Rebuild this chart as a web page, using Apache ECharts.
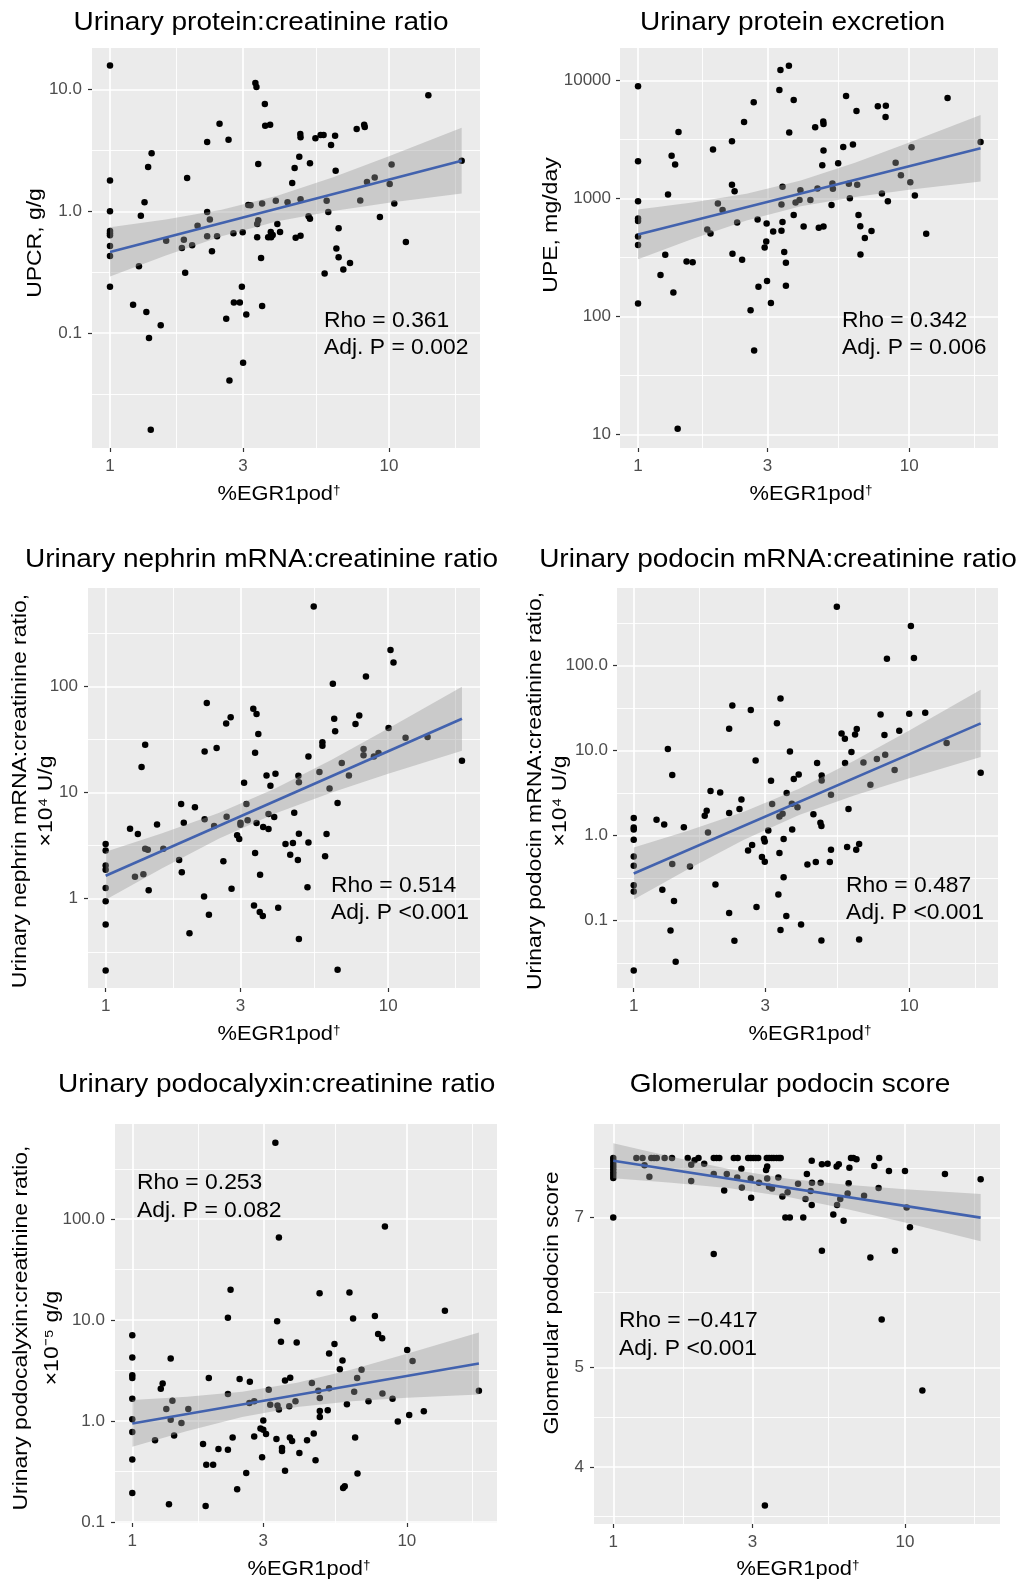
<!DOCTYPE html>
<html><head><meta charset="utf-8">
<script src="https://cdn.jsdelivr.net/npm/echarts@6/dist/echarts.min.js"></script>
<style>html,body{margin:0;padding:0;background:#fff}#c{width:1022px;height:1583px}</style>
</head><body><div id="c"></div>
<script>
// ---------- tick values ----------
const xTickValues = [1, 3, 10];
const xMinorValues = [1.732, 5.477, 17.32];
const upcrYTicks = [0.1, 1, 10];
const upcrYMinor = [0.0316, 0.316, 3.162];
const upeYTicks = [10, 100, 1000, 10000];
const upeYMinor = [31.62, 316.2, 3162];
const nephYTicks = [1, 10, 100];
const nephYMinor = [0.316, 3.162, 31.62, 316.2];
const podYTicks = [0.1, 1, 10, 100];
const podYMinor = [0.0316, 0.316, 3.162, 31.62, 316.2];
const pcxYTicks = [0.1, 1, 10, 100];
const pcxYMinor = [0.316, 3.162, 31.62, 316.2];
const gpsYTicks = [4, 5, 7];
const gpsYMinor = [3.58, 4.472, 5.916, 7.82];

// ---------- points [ %EGR1pod, value ] ----------
const upcrPoints = [[1,15.8],[1,1.79],[1,1.0],[1,0.69],[1,0.66],[1,0.635],[1,0.52],[1,0.43],[1,0.24],
[1.21,0.171],[1.27,0.353],[1.29,0.921],[1.33,1.19],[1.35,0.149],[1.37,2.31],[1.38,0.091],[1.40,0.016],[1.41,3.0],[1.52,0.116],[1.59,0.574],
[1.81,0.50],[1.84,0.585],[1.86,0.313],[1.89,1.88],[1.97,0.526],[2.06,0.762],[2.23,0.987],[2.23,3.72],[2.23,0.623],[2.28,0.855],
[2.32,0.469],[2.42,0.623],[2.47,5.25],[2.61,0.131],[2.66,3.88],[2.68,0.0408],[2.77,0.66],[2.78,0.178],[2.92,0.178],[2.97,0.24],
[2.99,0.672],[3.0,0.057],[3.08,0.142],[3.13,1.13],[3.19,1.12],[3.32,11.35],[3.35,10.5],[3.37,0.787],[3.37,0.611],[3.40,0.843],
[3.40,2.45],[3.48,0.414],[3.51,1.16],[3.51,0.167],[3.59,7.62],[3.60,5.06],[3.69,0.611],[3.75,5.16],[3.77,0.676],[3.78,0.611],
[3.83,0.639],[3.93,1.22],[3.98,0.787],[4.07,0.676],[4.33,1.19],[4.50,1.71],[4.59,2.27],[4.63,0.608],[4.77,2.81],[4.81,4.32],
[4.82,4.06],[4.82,1.26],[4.82,0.631],[5.15,0.91],[5.21,0.871],[5.21,2.48],[5.45,3.98],[5.69,4.24],[5.83,4.24],[5.88,0.309],
[5.98,1.22],[6.06,0.987],[6.20,3.51],[6.41,4.19],[6.44,2.16],[6.48,0.494],[6.60,0.725],[6.60,0.419],[6.86,0.332],[7.25,0.376],
[7.66,4.75],[7.89,1.23],[8.15,5.16],[8.19,4.93],[8.34,1.74],[8.89,1.90],[9.28,0.898],[10.06,1.68],[10.22,2.43],[10.45,1.16],
[11.5,0.56],[13.84,8.98],[18.22,2.61]];

const upePoints = [[1,8900],[1,2068],[1,949],[1,678],[1,644],[1,477],[1,403],[1,129],
[1.21,225],[1.26,334],[1.29,1081],[1.33,2294],[1.35,160],[1.37,1937],[1.40,11.2],[1.41,3654],[1.51,293],[1.59,288],
[1.80,547],[1.85,506],[1.89,2594],[1.97,907],[2.05,797],[2.22,3051],[2.22,1305],[2.23,341],[2.27,1153],[2.32,627],
[2.42,303],[2.46,4446],[2.60,113],[2.67,6516],[2.68,51.6],[2.76,664],[2.78,179],[2.93,385],[2.97,431],[2.98,615],
[2.99,200],[3.09,130],[3.15,526],[3.32,8280],[3.35,12220],[3.38,890],[3.38,533],[3.41,1255],[3.41,631],[3.46,352],
[3.51,286],[3.51,182],[3.60,13300],[3.61,3612],[3.75,6821],[3.75,723],[3.81,925],[3.94,968],[3.97,1176],[4.08,580],
[4.32,968],[4.50,4007],[4.59,1215],[4.64,565],[4.78,1913],[4.82,4474],[4.83,4277],[4.83,2544],[4.83,580],[5.17,879],
[5.21,1339],[5.23,1207],[5.47,1989],[5.71,2733],[5.85,7373],[5.99,1330],[6.04,1006],[6.20,2860],[6.39,5506],[6.43,1305],
[6.50,723],[6.60,583],[6.61,336],[6.86,462],[7.26,530],[7.66,6031],[7.93,1102],[8.18,4899],[8.20,6109],[8.34,949],
[8.91,2002],[9.32,1575],[10.09,1374],[10.2,2716],[10.49,1060],[11.55,503],[13.85,7091],[18.33,3012]];

const nephPoints = [[1,3.27],[1,2.85],[1,2.05],[1,1.875],[1,1.26],[1,0.944],[1,0.573],[1,0.211],
[1.22,4.56],[1.27,1.61],[1.30,4.06],[1.34,17.4],[1.36,1.70],[1.38,2.96],[1.38,28.2],[1.41,2.89],[1.42,1.20],[1.52,5.01],[1.60,2.96],
[1.82,2.31],[1.85,7.79],[1.86,1.78],[1.89,5.2],[1.98,0.472],[2.07,7.25],[2.23,1.05],[2.24,5.59],[2.24,24.4],[2.28,69.7],[2.32,0.707],
[2.42,4.84],[2.47,26.3],[2.61,2.25],[2.67,44.8],[2.68,5.92],[2.77,51.1],[2.79,1.24],[2.92,3.95],[2.97,3.65],[3.0,5.2],[3.0,4.98],
[3.09,12.4],[3.15,7.79],[3.18,5.47],[3.33,61.6],[3.35,0.865],[3.38,2.69],[3.38,23.7],[3.42,54.9],[3.42,5.16],[3.47,35.6],[3.51,0.749],
[3.52,1.68],[3.60,0.687],[3.61,4.73],[3.71,14.5],[3.77,4.53],[3.77,6.27],[3.83,11.6],[3.95,5.88],[3.99,15.0],[4.08,0.823],
[4.33,3.27],[4.50,2.60],[4.60,3.34],[4.65,6.46],[4.79,2.31],[4.81,14.4],[4.83,12.5],[4.83,4.09],[4.83,0.417],[5.18,1.28],[5.22,21.9],[5.22,3.39],
[5.45,567],[5.71,15.6],[5.85,27.6],[5.85,29.7],[5.98,2.51],[6.05,4.06],[6.20,10.9],[6.37,106],[6.44,49.6],[6.49,37.7],[6.62,0.214],[6.62,7.96],
[6.85,19.0],[7.26,14.5],[7.66,44.2],[7.90,53.3],[8.18,22.4],[8.18,25.7],[8.34,124],[8.90,21.9],[9.24,23.6],[10.03,40.5],[10.19,220],[10.44,168],
[11.52,32.9],[13.78,33.3],[18.24,19.9]];

const podPoints = [[1,1.6],[1,1.24],[1,1.17],[1,0.889],[1,0.566],[1,0.44],[1,0.26],[1,0.219],[1,0.0258],
[1.21,1.53],[1.27,0.23],[1.29,1.34],[1.33,10.4],[1.36,0.0762],[1.38,5.13],[1.38,0.46],[1.40,0.169],[1.42,0.0327],[1.52,1.25],[1.60,0.432],
[1.81,1.70],[1.84,1.95],[1.86,1.085],[1.90,3.32],[1.98,0.265],[2.06,3.2],[2.22,1.83],[2.22,18.0],[2.22,0.122],[2.28,33.8],[2.32,0.0577],
[2.42,2.04],[2.46,2.65],[2.60,0.666],[2.66,29.8],[2.69,0.77],[2.77,7.63],[2.79,0.1435],[2.92,0.556],[2.97,0.914],[2.99,0.85],[2.99,0.49],
[3.08,1.145],[3.15,4.4],[3.18,2.34],[3.31,20.8],[3.35,0.202],[3.38,0.62],[3.38,1.67],[3.41,40.9],[3.41,0.0769],[3.47,1.80],[3.50,0.906],[3.50,0.321],
[3.58,0.1125],[3.59,3.15],[3.69,9.73],[3.75,2.36],[3.76,1.17],[3.81,4.6],[3.93,2.15],[3.97,5.22],[4.05,0.0898],[4.27,0.456],[4.49,1.77],[4.58,0.486],
[4.63,7.1],[4.76,1.41],[4.80,1.29],[4.81,5.08],[4.81,4.44],[4.80,0.0582],[5.15,0.486],[5.20,3.01],[5.20,0.678],[5.46,490],[5.68,15.85],[5.84,13.7],
[5.85,7.1],[5.95,0.729],[6.02,2.04],[6.17,9.56],[6.36,15.4],[6.42,0.678],[6.45,17.8],[6.58,0.791],[6.58,0.0598],[6.82,7.22],[7.23,3.94],[7.63,7.91],
[7.87,26.5],[8.13,15.15],[8.18,8.89],[8.30,120],[8.85,5.87],[9.20,17.0],[10.0,27.0],[10.14,290],[10.4,122],[11.43,27.7],[13.67,12.2],[18.17,5.46]];

const pcxPoints = [[1,7.1],[1,4.27],[1,2.85],[1,2.67],[1,1.66],[1,1.04],[1,0.778],[1,0.417],[1,0.194],
[1.21,0.644],[1.27,2.09],[1.29,2.36],[1.33,1.32],[1.36,0.15],[1.38,4.17],[1.38,1.03],[1.40,1.59],[1.42,0.721],[1.51,0.955],[1.60,1.32],
[1.81,0.592],[1.85,0.144],[1.86,0.37],[1.90,2.67],[1.97,0.37],[2.06,0.528],[2.23,1.85],[2.23,0.52],[2.23,10.55],[2.28,20.0],[2.32,0.689],
[2.41,0.211],[2.46,2.61],[2.60,0.306],[2.67,1.51],[2.68,2.45],[2.78,0.705],[2.78,1.57],[2.93,0.846],[2.97,0.437],[3.0,1.015],[3.0,0.821],
[3.07,0.744],[3.14,2.04],[3.18,1.45],[3.32,574],[3.35,0.664],[3.37,9.77],[3.38,1.43],[3.42,65.8],[3.42,1.30],[3.48,6.1],[3.51,0.54],[3.51,0.505],
[3.60,0.322],[3.60,2.53],[3.73,1.40],[3.75,0.689],[3.76,2.69],[3.82,0.634],[3.93,1.57],[3.97,6.01],[4.06,0.482],[4.33,0.644],[4.51,2.38],[4.58,0.755],
[4.65,0.408],[4.76,2.0],[4.81,18.5],[4.82,1.69],[4.82,1.26],[4.82,1.10],[5.15,1.28],[5.21,4.68],[5.21,2.12],[5.45,5.79],[5.70,3.27],[5.83,3.99],
[5.86,0.217],[5.94,0.226],[6.05,1.47],[6.18,18.8],[6.37,10.4],[6.43,1.95],[6.48,0.689],[6.59,2.67],[6.61,0.303],[6.84,3.22],[7.25,1.57],[7.65,11.0],
[7.86,7.27],[8.13,6.63],[8.15,1.88],[8.32,84.6],[8.87,1.66],[9.27,0.992],[10.03,5.05],[10.2,1.15],[10.49,3.93],[11.53,1.25],[13.76,12.4],[18.3,2.0]];

const gpsPoints = [[1,8.0],[1,7.95],[1,7.9],[1,7.85],[1,7.8],[1,7.75],[1,7.7],[1,7.65],[1,7.0],
[1.20,8.0],[1.26,8.0],[1.28,7.87],[1.33,7.67],[1.35,8.0],[1.38,8.0],[1.41,8.0],[1.50,8.0],[1.59,8.0],
[1.80,8.0],[1.85,7.88],[1.85,7.6],[1.90,7.96],[1.96,8.0],[2.05,7.9],[2.21,8.0],[2.21,7.72],[2.21,6.45],[2.26,8.0],[2.31,8.0],
[2.40,7.44],[2.45,7.72],[2.59,8.0],[2.66,7.66],[2.67,8.0],[2.75,7.81],[2.76,7.49],[2.90,8.0],[2.96,8.0],[2.96,7.64],[2.97,7.32],
[3.02,8.0],[3.08,8.0],[3.14,8.0],[3.16,7.57],[3.31,3.67],[3.34,7.79],[3.36,8.0],[3.37,7.85],[3.37,7.64],[3.42,8.0],[3.42,7.5],[3.49,8.0],[3.50,7.47],
[3.55,8.0],[3.63,8.0],[3.68,7.66],[3.70,8.0],[3.75,8.0],[3.80,7.34],[3.89,7.0],[3.96,7.41],[4.03,7.0],[4.30,7.55],[4.48,7.0],[4.56,7.3],[4.61,7.72],
[4.75,7.43],[4.79,7.95],[4.80,7.57],[4.79,7.2],[5.14,7.57],[5.19,6.5],[5.19,7.89],[5.43,7.9],[5.68,7.05],[5.83,7.85],[5.85,7.2],[5.93,7.89],[6.0,7.3],
[6.16,6.95],[6.36,7.39],[6.41,7.56],[6.45,7.83],[6.53,8.0],[6.65,8.0],[6.82,7.98],[7.24,7.35],[7.61,6.40],[7.85,7.86],[8.12,7.48],[8.16,8.0],[8.32,5.57],
[8.81,7.77],[9.24,6.5],[10.0,7.77],[10.13,7.16],[10.4,6.85],[11.47,4.75],[13.71,7.72],[18.17,7.63]];

// ---------- fitted lines (end points) ----------
const upcrFit = [[1,0.463],[18.22,2.61]];
const upeFit = [[1,496],[18.33,2664]];
const nephFit = [[1,1.647],[18.24,49.6]];
const podFit = [[1,0.357],[18.17,20.8]];
const pcxFit = [[1,0.948],[18.3,3.72]];
const gpsFit = [[1,7.953],[18.17,7.0]];

// ---------- confidence bands ----------
const upcrBandX = [1,1.585,2.512,3.981,6.31,10,18.22];
const upcrBandLo = [0.291,0.434,0.624,0.829,1.008,1.175,1.402];
const upcrBandHi = [0.739,0.858,1.031,1.343,1.909,2.835,4.853];
const upeBandX = [1,1.585,2.512,3.981,6.31,10,18.33];
const upeBandLo = [305,454,650,857,1031,1186,1392];
const upeBandHi = [807,924,1098,1418,2006,2971,5095];
const nephBandX = [1,1.585,2.512,3.981,6.31,10,18.24];
const nephBandLo = [0.978,1.932,3.664,6.356,10.01,15.0,24.8];
const nephBandHi = [2.772,4.134,6.42,10.9,20.39,40.06,99.2];
const podBandX = [1,1.585,2.512,3.981,6.31,10,18.17];
const podBandLo = [0.1767,0.4064,0.8886,1.733,2.957,4.718,8.35];
const podBandHi = [0.7226,1.142,1.897,3.537,7.534,17.16,51.7];
const pcxBandX = [1,1.585,2.512,3.981,6.31,10,18.3];
const pcxBandLo = [0.557,0.798,1.099,1.381,1.569,1.699,1.837];
const pcxBandHi = [1.614,1.739,1.949,2.394,3.251,4.633,7.55];
const gpsBandX = [1,1.585,2.512,3.981,6.31,10,18.17];
const gpsBandLo = [7.646,7.571,7.476,7.332,7.137,6.924,6.64];
const gpsBandHi = [8.27,8.022,7.80,7.638,7.535,7.461,7.379];

// ---------- layout ----------
const FONT = '"Liberation Sans", Arial, Helvetica, sans-serif';
const panels = [
 {pts:upcrPoints, fit:upcrFit, bx:upcrBandX, lo:upcrBandLo, hi:upcrBandHi, yt:upcrYTicks, ym:upcrYMinor, dec:1,
  g:[92,48,388,400], xr:[0.862,21.2], yr:[0.01135,22.0], ym0:10,
  title:['Urinary protein:creatinine ratio',261,20.5], xt:[279,492], yti:[['UPCR, g/g',34,243]],
  stat:[['Rho = 0.361','Adj. P = 0.002'],324,318,345.7]},
 {pts:upePoints, fit:upeFit, bx:upeBandX, lo:upeBandLo, hi:upeBandHi, yt:upeYTicks, ym:upeYMinor, dec:0,
  g:[620,48,378,400], xr:[0.858,21.25], yr:[7.71,18790], ym0:9,
  title:['Urinary protein excretion',792.5,20.5], xt:[811,492], yti:[['UPE, mg/day',550,225]],
  stat:[['Rho = 0.342','Adj. P = 0.006'],842,318,345.7]},
 {pts:nephPoints, fit:nephFit, bx:nephBandX, lo:nephBandLo, hi:nephBandHi, yt:nephYTicks, ym:nephYMinor, dec:0,
  g:[88,588,392,400], xr:[0.866,21.13], yr:[0.1442,844.7], ym0:10,
  title:['Urinary nephrin mRNA:creatinine ratio',261.5,557.5], xt:[279,1032],
  yti:[['Urinary nephrin mRNA:creatinine ratio,',19,791],['×10⁴ U/g',45,801]],
  stat:[['Rho = 0.514','Adj. P <0.001'],331,883,910.3]},
 {pts:podPoints, fit:podFit, bx:podBandX, lo:podBandLo, hi:podBandHi, yt:podYTicks, ym:podYMinor, dec:1,
  g:[617,588,381,400], xr:[0.8695,21.0], yr:[0.01603,814], ym0:9,
  title:['Urinary podocin mRNA:creatinine ratio',778,557.5], xt:[810,1032],
  yti:[['Urinary podocin mRNA:creatinine ratio,',534,791],['×10⁴ U/g',559,801]],
  stat:[['Rho = 0.487','Adj. P <0.001'],846,883,910.3]},
 {pts:pcxPoints, fit:pcxFit, bx:pcxBandX, lo:pcxBandLo, hi:pcxBandHi, yt:pcxYTicks, ym:pcxYMinor, dec:1,
  g:[115,1124,382,399], xr:[0.865,21.3], yr:[0.0977,878.5], ym0:10,
  title:['Urinary podocalyxin:creatinine ratio',276.7,1082.5], xt:[309,1567],
  yti:[['Urinary podocalyxin:creatinine ratio,',20,1328],['×10⁻⁵ g/g',51,1338]],
  stat:[['Rho = 0.253','Adj. P = 0.082'],137,1180.7,1208]},
 {pts:gpsPoints, fit:gpsFit, bx:gpsBandX, lo:gpsBandLo, hi:gpsBandHi, yt:gpsYTicks, ym:gpsYMinor, dec:0,
  g:[594,1124,406,400], xr:[0.859,21.17], yr:[3.521,8.635], ym0:10,
  title:['Glomerular podocin score',790,1082.5], xt:[798,1567],
  yti:[['Glomerular podocin score',551,1303]],
  stat:[['Rho = \u22120.417','Adj. P <0.001'],619,1318.7,1346.3]}
];

const grids=[], xAxes=[], yAxes=[], series=[], graphics=[];
const DY = 2.5; // canvas 'middle' sits slightly above the cap middle
function fmt(dec){ return v => { const n = Number(Number(v).toPrecision(6)); return dec ? n.toFixed(dec) : String(Math.round(n)); }; }
function txt(text,x,y,size,o){
  o=o||{};
  const rot = o.rot||0;
  const style = {text:text, fontSize:size, fontFamily:FONT, fill:'#000', textAlign:o.align||'center', align:o.align||'center',
      textVerticalAlign:'middle', verticalAlign:'middle'};
  if (o.rich) style.rich = o.rich;
  graphics.push({type:'text', x: rot ? x + 1 : x, y: rot ? y : y + DY, rotation:rot, scaleX:o.sx||1.12, scaleY:1, silent:true, z:100,
    style:style});
}
panels.forEach((p,i)=>{
  grids.push({left:p.g[0], top:p.g[1], width:p.g[2], height:p.g[3], show:true, backgroundColor:'#EBEBEB', borderWidth:0});
  const base = {gridIndex:i, type:'log', axisLine:{show:false}, minorTick:{show:false}, minorSplitLine:{show:false}};
  xAxes.push(Object.assign({}, base, {min:p.xr[0], max:p.xr[1],
    axisTick:{show:true, customValues:xTickValues, length:4, lineStyle:{color:'#333', width:1.2}},
    axisLabel:{show:true, customValues:xTickValues, margin:10, color:'#4D4D4D', fontSize:17, fontFamily:FONT, formatter:fmt(0)},
    splitLine:{show:true, lineStyle:{color:'#ffffff', width:1.7}}}));
  xAxes.push(Object.assign({}, base, {min:p.xr[0], max:p.xr[1],
    axisTick:{show:false, customValues:xMinorValues}, axisLabel:{show:false, customValues:xMinorValues},
    splitLine:{show:true, lineStyle:{color:'#ffffff', width:0.9}}}));
  yAxes.push(Object.assign({}, base, {min:p.yr[0], max:p.yr[1],
    axisTick:{show:true, customValues:p.yt, length:4, lineStyle:{color:'#333', width:1.2}},
    axisLabel:{show:true, customValues:p.yt, margin:p.ym0, color:'#4D4D4D', fontSize:17, fontFamily:FONT, formatter:fmt(p.dec)},
    splitLine:{show:true, lineStyle:{color:'#ffffff', width:1.7}}}));
  yAxes.push(Object.assign({}, base, {min:p.yr[0], max:p.yr[1],
    axisTick:{show:false, customValues:p.ym}, axisLabel:{show:false, customValues:p.ym},
    splitLine:{show:true, lineStyle:{color:'#ffffff', width:0.9}}}));
  const xi = 2*i, yi = 2*i;
  series.push({type:'scatter', xAxisIndex:xi, yAxisIndex:yi, data:p.pts, symbolSize:6.5, silent:true, z:2,
    itemStyle:{color:'#000000', opacity:1}});
  const bx=p.bx, lo=p.lo, hi=p.hi;
  series.push({type:'custom', xAxisIndex:xi, yAxisIndex:yi, z:3, silent:true, data:[[bx[0], lo[0]]],
    renderItem:(params, api)=>{
      const pts=[];
      for(let k=0;k<bx.length;k++) pts.push(api.coord([bx[k], hi[k]]));
      for(let k=bx.length-1;k>=0;k--) pts.push(api.coord([bx[k], lo[k]]));
      return {type:'polygon', shape:{points:pts}, style:{fill:'rgba(153,153,153,0.4)', stroke:null}};
    }});
  series.push({type:'line', xAxisIndex:xi, yAxisIndex:yi, data:p.fit, z:4, silent:true, symbol:'none',
    lineStyle:{color:'#4262AE', width:2.6}});
  // texts
  txt(p.title[0], p.title[1], p.title[2], 25, {});
  txt('%EGR1pod{s|\u2020}', p.xt[0], p.xt[1], 19.5, {rich:{s:{fontSize:12, fontFamily:FONT, fill:'#000', verticalAlign:'top', padding:[0,0,6,0]}}});
  p.yti.forEach(t=>txt(t[0], t[1], t[2], 20.5, {rot:Math.PI/2}));
  txt(p.stat[0][0], p.stat[1], p.stat[2], 22, {align:'left', sx:1.04});
  txt(p.stat[0][1], p.stat[1], p.stat[3], 22, {align:'left', sx:1.04});
});

const chart = echarts.init(document.getElementById('c'), null, {renderer:'canvas', width:1022, height:1583});
chart.setOption({backgroundColor:'#ffffff', animation:false, grid:grids, xAxis:xAxes, yAxis:yAxes, series:series, graphic:{elements:graphics}});
</script>
</body></html>
